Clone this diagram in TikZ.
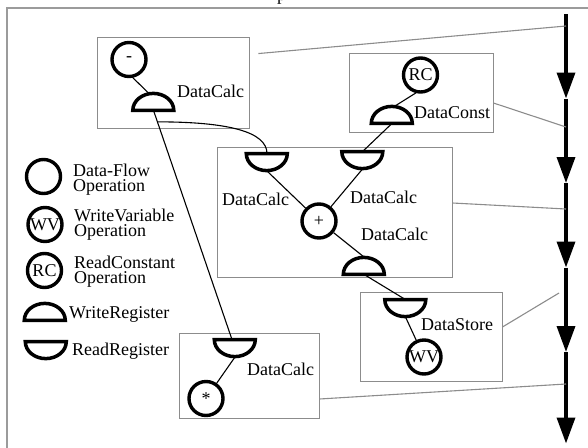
\documentclass[tikz,border=0pt]{standalone}
\usepackage{fontspec}
\setmainfont{Liberation Serif}
\usetikzlibrary{arrows.meta,calc}

% two stacked lines of a legend entry, baseline on the first line
\newcommand\legendpair[2]{\vtop{\baselineskip=15pt\hbox{#1}\hbox{#2}}}
% register glyphs drawn over an invisible anchor node
\newcommand\writereg[1]{\draw[regline] (#1.south west) arc[start angle=180,end angle=0,x radius=20.5pt,y radius=17pt] -- cycle;}
\newcommand\readreg[1]{\draw[regline] (#1.north west) arc[start angle=180,end angle=360,x radius=20.5pt,y radius=17pt] -- cycle;}

\definecolor{framegray}{RGB}{155,155,155}
\definecolor{boxgray}{RGB}{140,140,140}

\tikzset{
  every node/.style={font=\fontsize{18}{20}\selectfont, inner sep=0pt},
  op/.style={circle, draw, line width=3.4pt, minimum size=34pt},
  reg/.style={minimum width=41pt, minimum height=17pt},
  regline/.style={line width=3.5pt, line join=miter},
  grp/.style={draw=boxgray, line width=0.9pt},
  link/.style={line width=1.1pt},
  tie/.style={draw=boxgray, line width=1.1pt},
  flow/.style={line width=3.5pt, -{Triangle[length=26pt,width=18pt]}},
  lbl/.style={anchor=base west},
}

\begin{document}
\begin{tikzpicture}[x=1pt,y=-1pt]
\useasboundingbox (0,0) rectangle (588,447);

% caption above the frame
\node[anchor=base west] (caption) at (277,0) {p};

% outer frame
\draw[framegray, line width=1.3pt] (7,8) rectangle (640,500);

% grouping boxes
\node[grp, minimum width=152pt, minimum height=91pt]  (b1) at (173,82.5) {};
\node[grp, minimum width=144pt, minimum height=79pt]  (b2) at (421,92.5) {};
\node[grp, minimum width=235pt, minimum height=130pt] (b3) at (334.5,212) {};
\node[grp, minimum width=142pt, minimum height=89pt]  (b4) at (431,336.5) {};
\node[grp, minimum width=140pt, minimum height=85pt]  (b5) at (249,375.5) {};

% operations
\node[op] (c1) at (129,59.5) {-};
\node[op] (c2) at (420.5,75) {RC};
\node[op] (c3) at (319,221) {+};
\node[op] (c4) at (424,357) {WV};
\node[op] (c5) at (206,398.5) {*};

% register anchors
\node[reg] (w1)  at (153.5,101.7) {};
\node[reg] (w2)  at (392,114.7) {};
\node[reg] (r3a) at (267,162.3) {};
\node[reg] (r3b) at (362.5,160.3) {};
\node[reg] (w3)  at (364,265.7) {};
\node[reg] (r4)  at (405.5,308.3) {};
\node[reg] (r5)  at (235,348.3) {};

\writereg{w1}
\writereg{w2}
\readreg{r3a}
\readreg{r3b}
\writereg{w3}
\readreg{r4}
\readreg{r5}

% data links
\draw[link] (c1.-78) -- ([xshift=-5pt]w1.north);
\draw[link] (w1.south) -- ([xshift=-3pt]r5.north);
\draw[link] ($(w1.south)!0.05!(r5.north)$) .. controls +(70,0) and +(0,-22) .. (r3a.north);
\draw[link] (c2.-105) -- ([xshift=3pt]w2.north);
\draw[link] (w2.south) -- (r3b.north);
\draw[link] (r3a.south) -- (c3);
\draw[link] (r3b.south) -- (c3);
\draw[link] (c3) -- (w3.north);
\draw[link] (w3.south) -- (r4.north);
\draw[link] (r4.south) -- (c4);
\draw[link] (r5.south) -- (c5);

% labels
\node[lbl] (n1) at (177,97)  {DataCalc};
\node[lbl] (n2) at (414,118) {DataConst};
\node[lbl] (n3) at (222,205) {DataCalc};
\node[lbl] (n4) at (350,203) {DataCalc};
\node[lbl] (n5) at (361,240) {DataCalc};
\node[lbl] (n6) at (421,330) {DataStore};
\node[lbl] (n7) at (247,375) {DataCalc};

% time line
\coordinate (t0) at (566,14);
\coordinate (t1) at (566,98.5);
\coordinate (t2) at (566,183);
\coordinate (t3) at (566,267.5);
\coordinate (t4) at (566,352);
\coordinate (t5) at (566,443.5);
\draw[flow] (t0) -- (t1);
\draw[flow] (t1) -- (t2);
\draw[flow] (t2) -- (t3);
\draw[flow] (t3) -- (t4);
\draw[flow] (t4) -- (t5);

% boxes tied to the time line
\coordinate (j1) at (566,26);
\coordinate (j2) at (566,127);
\coordinate (j3) at (566,209);
\coordinate (j4) at (559,293);
\coordinate (j5) at (566,384);
\draw[tie] ([xshift=9pt,yshift=-17pt]b1.north east) -- (j1);
\draw[tie] ([yshift=-10.5pt]b2.east) -- (j2);
\draw[tie] ([yshift=9pt]b3.east) -- (j3);
\draw[tie] ([yshift=9.5pt]b4.east) -- (j4);
\draw[tie] ([yshift=-23.5pt]b5.east) -- (j5);

% legend
\node[op] (l1) at (43.5,176.5) {};
\node[op] (l2) at (45,224.5) {WV};
\node[op] (l3) at (44.5,270.5) {RC};
\node[reg] (lw) at (45,311.7) {};
\node[reg] (lr) at (46,350.3) {};
\writereg{lw}
\readreg{lr}
\node[lbl] (e1) at (73,176.5) {\legendpair{Data-Flow}{Operation}};
\node[lbl] (e2) at (74,221.7) {\legendpair{WriteVariable}{Operation}};
\node[lbl] (e3) at (74,268.3) {\legendpair{ReadConstant}{Operation}};
\node[lbl] (e4) at (69,318)   {WriteRegister};
\node[lbl] (e5) at (72,355.7) {ReadRegister};
\end{tikzpicture}
\end{document}
